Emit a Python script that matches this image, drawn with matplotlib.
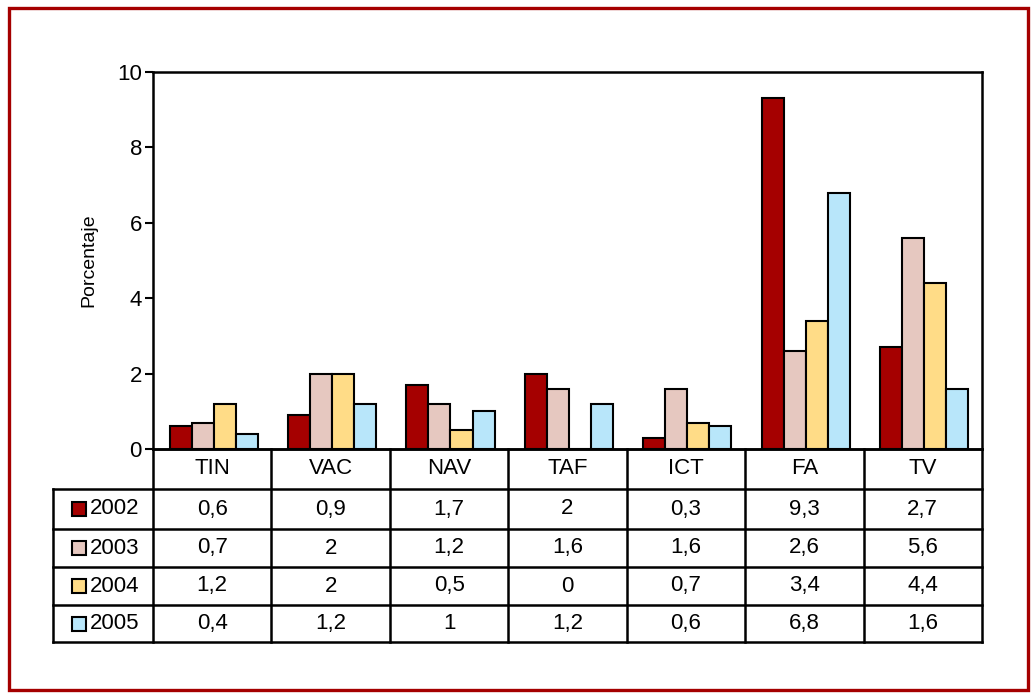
import matplotlib
matplotlib.use("Agg")
import matplotlib.pyplot as plt
from matplotlib.patches import Rectangle
from matplotlib.transforms import blended_transform_factory
import matplotlib.font_manager as fm

names = {f.name for f in fm.fontManager.ttflist}
fam = ['Liberation Sans Narrow', 'DejaVu Sans'] if 'Liberation Sans Narrow' in names else ['Liberation Sans', 'DejaVu Sans']
plt.rcParams['font.family'] = fam

categories = ["TIN", "VAC", "NAV", "TAF", "ICT", "FA", "TV"]
years = ["2002", "2003", "2004", "2005"]
v2002 = [0.6, 0.9, 1.7, 2, 0.3, 9.3, 2.7]
v2003 = [0.7, 2, 1.2, 1.6, 1.6, 2.6, 5.6]
v2004 = [1.2, 2, 0.5, 0, 0.7, 3.4, 4.4]
v2005 = [0.4, 1.2, 1, 1.2, 0.6, 6.8, 1.6]
labels2002 = ["0,6", "0,9", "1,7", "2", "0,3", "9,3", "2,7"]
labels2003 = ["0,7", "2", "1,2", "1,6", "1,6", "2,6", "5,6"]
labels2004 = ["1,2", "2", "0,5", "0", "0,7", "3,4", "4,4"]
labels2005 = ["0,4", "1,2", "1", "1,2", "0,6", "6,8", "1,6"]
series = [v2002, v2003, v2004, v2005]
series_labels = [labels2002, labels2003, labels2004, labels2005]
colors = ["#A50000", "#E6C8C0", "#FFDC87", "#B8E6FA"]

W, H = 1036, 698
fig = plt.figure(figsize=(W / 100, H / 100), dpi=100)

# red frame
fig.patches.append(Rectangle((9 / W, 8 / H), 1019 / W, 682 / H, transform=fig.transFigure,
                             fill=False, edgecolor="#A50000", linewidth=2.4))

ax_l, ax_r, ax_t, ax_b = 153, 982, 72, 449
ax = fig.add_axes([ax_l / W, 1 - ax_b / H, (ax_r - ax_l) / W, (ax_b - ax_t) / H])

bw = 0.186
n = len(series)
for i, vals in enumerate(series):
    xs = [k + (i - (n - 1) / 2) * bw + 0.012 for k in range(len(categories))]
    ax.bar(xs, vals, width=bw, color=colors[i], edgecolor="black", linewidth=1.5, zorder=3)

ax.set_xlim(-0.5, len(categories) - 0.5)
ax.set_ylim(0, 10)
ax.set_yticks([0, 2, 4, 6, 8, 10])
ax.set_yticklabels(["0", "2", "4", "6", "8", "10"])
ax.tick_params(axis="y", labelsize=16, length=6, width=1.5, pad=2)
ax.set_xticks([])
for s in ax.spines.values():
    s.set_linewidth(1.8)
ax.set_ylabel("Porcentaje", fontsize=14, labelpad=14)

# table below axes
axh = ax_b - ax_t
def yf(py):
    return (ax_b - py) / axh

tr = blended_transform_factory(ax.transData, ax.transAxes)
row_edges = [449, 489, 529, 567, 605, 642]
left_col = -0.5 - (ax_l - 53) / ((ax_r - ax_l) / len(categories))
lw = 1.8
kw = dict(transform=tr, color="black", linewidth=lw, clip_on=False)

# horizontal lines
ax.plot([-0.5, 6.5], [yf(row_edges[0])] * 2, **kw)
for py in row_edges[1:]:
    ax.plot([left_col, 6.5], [yf(py)] * 2, **kw)
# vertical lines
for k in range(len(categories) + 1):
    ax.plot([k - 0.5, k - 0.5], [yf(row_edges[0]), yf(row_edges[-1])], **kw)
ax.plot([left_col, left_col], [yf(row_edges[1]), yf(row_edges[-1])], **kw)

# header
for k, c in enumerate(categories):
    ax.text(k, yf((row_edges[0] + row_edges[1]) / 2), c, transform=tr, ha="center",
            va="center", fontsize=16, clip_on=False)

# rows
unit = (ax_r - ax_l) / len(categories)
for r in range(n):
    yc = yf((row_edges[r + 1] + row_edges[r + 2]) / 2)
    for k in range(len(categories)):
        ax.text(k, yc, series_labels[r][k], transform=tr, ha="center", va="center",
                fontsize=16, clip_on=False)
    sq_x = left_col + 19 / unit
    sq_w = 14 / unit
    sq_h = 14 / axh
    ax.add_patch(Rectangle((sq_x, yc - sq_h / 2), sq_w, sq_h, transform=tr,
                           facecolor=colors[r], edgecolor="black", linewidth=1.5, clip_on=False))
    ax.text(sq_x + sq_w + 4 / unit, yc, years[r], transform=tr, ha="left", va="center",
            fontsize=16, clip_on=False)

fig.savefig("out.png", dpi=100)
